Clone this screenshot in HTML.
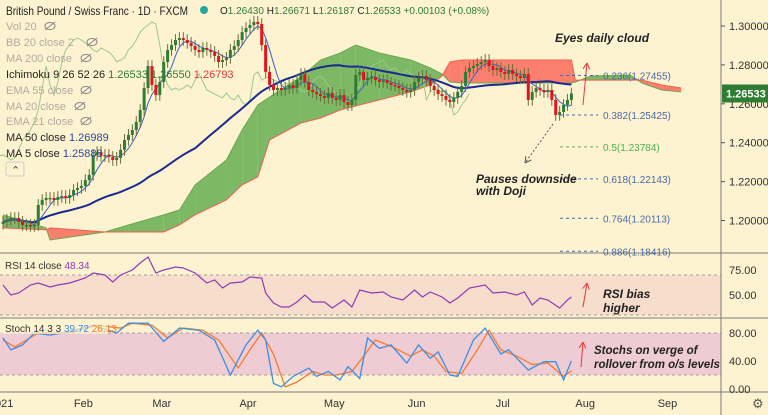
<!DOCTYPE html>
<html><head><meta charset="utf-8">
<style>
html,body{margin:0;padding:0;background:#fdf3d1;}
#wrap{position:relative;width:768px;height:415px;overflow:hidden;background:#fdf3d1;font-family:"Liberation Sans",sans-serif;}
svg{position:absolute;left:0;top:0;}
</style></head>
<body>
<div id="wrap">
<svg id="c" width="768" height="415"></svg>
</div>
<script>
// ---------- data ----------
const closes = [1.1993,1.2003,1.2013,1.2013,1.1993,1.1977,1.1977,1.1972,1.1977,1.2080,
1.2106,1.2116,1.2116,1.2106,1.2121,1.2126,1.2116,1.2131,1.2157,1.2167,
1.2178,1.2208,1.2234,1.2337,1.2352,1.2332,1.2337,1.2327,1.2311,1.2322,
1.2363,1.2414,1.2440,1.2465,1.2507,1.2568,1.2681,1.2794,1.2697,1.2645,
1.2712,1.2815,1.2877,1.2902,1.2928,1.2938,1.2928,1.2913,1.2897,1.2877,
1.2866,1.2887,1.2877,1.2866,1.2846,1.2815,1.2825,1.2836,1.2877,1.2897,
1.2928,1.2969,1.2990,1.3005,1.3021,1.3010,1.2902,1.2764,1.2697,1.2671,
1.2681,1.2671,1.2681,1.2697,1.2681,1.2722,1.2753,1.2712,1.2671,1.2661,
1.2650,1.2640,1.2630,1.2656,1.2630,1.2620,1.2645,1.2609,1.2594,1.2620,
1.2748,1.2764,1.2722,1.2733,1.2738,1.2722,1.2712,1.2722,1.2707,1.2697,
1.2692,1.2681,1.2671,1.2661,1.2671,1.2712,1.2733,1.2743,1.2722,1.2692,
1.2671,1.2650,1.2640,1.2620,1.2609,1.2630,1.2661,1.2692,1.2764,1.2784,
1.2794,1.2805,1.2815,1.2825,1.2794,1.2774,1.2784,1.2764,1.2753,1.2774,
1.2753,1.2743,1.2733,1.2753,1.2620,1.2661,1.2681,1.2671,1.2661,1.2671,
1.2620,1.2543,1.2558,1.2594,1.2620,1.2653];
const cloudIdx = [0,11,12,26,32,41,45,49,57,61,65,68,76,81,86,90,96,104,109,112,114,117,145,146,150,160,163,168,173];
const spanA = [1.2029,1.1962,1.1900,1.1941,1.1977,1.2029,1.2054,1.2183,1.2311,1.2465,1.2594,1.2635,1.2738,1.2825,1.2861,1.2902,1.2861,1.2825,1.2784,1.2753,1.2712,1.2707,1.2707,1.2712,1.2743,1.2748,1.2707,1.2671,1.2661];
const spanB = [1.1962,1.1952,1.1962,1.1941,1.1941,1.1941,1.1977,1.2029,1.2106,1.2183,1.2224,1.2414,1.2501,1.2527,1.2568,1.2589,1.2620,1.2661,1.2697,1.2743,1.2815,1.2825,1.2825,1.2722,1.2722,1.2722,1.2722,1.2697,1.2681];
const rsiIdx = [0,2,4,7,9,12,14,17,21,23,26,28,30,33,35,37,39,41,44,46,49,52,54,56,58,61,63,66,67,69,71,73,75,77,79,82,84,87,89,91,94,97,99,102,105,107,109,112,114,116,119,123,125,128,131,133,135,137,139,142,144,145];
const rsiVals = [60,50,52,60,62,58,60,62,67,72,70,63,70,75,82,88,72,75,78,77,72,62,65,57,62,63,68,67,52,42,38,38,43,50,43,43,37,45,38,55,52,53,48,45,55,48,53,48,42,47,57,60,52,53,50,53,40,47,45,37,45,48];
const kIdx = [0,2,5,8,12,17,23,29,32,37,41,45,50,54,58,62,65,67,69,71,74,78,80,83,86,88,91,93,96,99,103,106,109,111,114,116,120,123,127,129,134,138,141,143,145];
const kVals = [73,56,63,80,77,82,91,80,94,94,68,87,84,70,20,63,84,70,8,3,18,30,18,25,13,32,15,73,58,63,37,63,44,53,20,18,70,87,50,56,27,39,39,13,40];
const dIdx = [0,3,6,9,17,24,30,33,38,42,46,51,55,60,63,66,69,72,75,79,82,85,89,92,95,99,104,107,110,113,117,121,124,127,131,135,139,143,145];
const dVals = [70,60,70,80,80,91,87,94,91,73,87,84,70,30,56,80,50,3,10,25,20,20,25,47,70,61,47,56,47,25,22,56,84,56,47,35,37,18,26];
const priceTicks = [1.30,1.28,1.26,1.24,1.22,1.20];
const fibRatios = ["0.236","0.382","0.5","0.618","0.764","0.886"];
const fibPrices = [1.27455,1.25425,1.23784,1.22143,1.20113,1.18416];
const monthLabels = ["2021","Feb","Mar","Apr","May","Jun","Jul","Aug","Sep"];
const monthBars = [-1,20,40,62,84,105,127,148,169];
const rsiTicks = [75,50];
const stochTicks = [80,40,0];

// ---------- axes ----------
const X = i => 3 + 3.92*i;
const PY = p => 26 + (1.30 - p)*1945;
const RY = v => 295 - (v-50)*1.0;
const SY = v => 389 - v*0.7;
const NS='http://www.w3.org/2000/svg';
const svg=document.getElementById('c');
function el(tag,attrs,parent){const e=document.createElementNS(NS,tag);for(const k in attrs)e.setAttribute(k,attrs[k]);(parent||svg).appendChild(e);return e;}

// bands
let b=el('rect',{x:0,y:RY(70),width:721,height:RY(30)-RY(70),fill:'#f7ddcb'});


b=el('rect',{x:0,y:SY(80),width:721,height:SY(20)-SY(80),fill:'#efcbd3'});


[[RY(70)],[RY(30)],[SY(80)],[SY(20)]].forEach(v=>{let l=el('line',{x1:0,x2:721,y1:v[0],y2:v[0],stroke:'#a89a9a','stroke-dasharray':'3,3','stroke-width':1});});

// separators
[[253],[318],[392]].forEach(v=>{let l=el('line',{x1:0,x2:768,y1:v[0],y2:v[0],stroke:'#7a7a7a','stroke-width':1});});
let vl=el('line',{x1:721,x2:721,y1:0,y2:415,stroke:'#7a7a7a','stroke-width':1});



// cloud
for(let k=0;k<cloudIdx.length-1;k++){
  const x1=X(cloudIdx[k]),x2=X(cloudIdx[k+1]);
  const g=(spanA[k]+spanA[k+1])>=(spanB[k]+spanB[k+1]);
  const p=el('polygon',{points:`${x1},${PY(spanA[k])} ${x2},${PY(spanA[k+1])} ${x2},${PY(spanB[k+1])} ${x1},${PY(spanB[k])}`,fill:g?'#7db864':'#fc7e6d'});
  
  
}
let pa=el('polyline',{points:cloudIdx.map((c,k)=>X(c)+','+PY(spanA[k])).join(' '),fill:'none',stroke:'#6aa84f','stroke-width':1});


let pb=el('polyline',{points:cloudIdx.map((c,k)=>X(c)+','+PY(spanB[k])).join(' '),fill:'none',stroke:'#f06050','stroke-width':1});



// chikou
let ch=el('polyline',{points:closes.map((c,i)=>X(i-26)+','+PY(c)).join(' '),fill:'none',stroke:'#9cc98a','stroke-width':1});



// moving averages
function sma(n){return closes.map((c,i)=>{const s=closes.slice(Math.max(0,i-n+1),i+1);return s.reduce((a,b)=>a+b,0)/s.length;});}
const ma50=sma(50);
let m50=el('polyline',{points:ma50.map((v,i)=>X(i)+','+PY(v)).join(' '),fill:'none',stroke:'#1a2a8f','stroke-width':2});


let m5=el('polyline',{points:sma(5).map((v,i)=>X(i)+','+PY(v)).join(' '),fill:'none',stroke:'#3b62c8','stroke-width':1});



// candles
closes.forEach((c,i)=>{
  const o=i?closes[i-1]:c-0.001;
  const hi=Math.max(o,c)+0.003,lo=Math.min(o,c)-0.003;
  const col=c>=o?'#2e7d32':'#e2141c';
  const g=el('g',{});
  
  
  el('line',{x1:X(i),x2:X(i),y1:PY(hi),y2:PY(lo),stroke:'#6b6b3a','stroke-width':1},g);
  const t=PY(Math.max(o,c)),h=Math.max(1.5,PY(Math.min(o,c))-t);
  el('rect',{x:X(i)-1.5,y:t,width:3,height:h,fill:col},g);
});

// fib levels
fibPrices.forEach((p,k)=>{
  const y=PY(p);
  const l=el('line',{x1:560,x2:598,y1:y,y2:y,stroke:k==2?'#6aa84f':'#4a6aa8','stroke-dasharray':'3,3','stroke-width':1});
  
  
  const t=el('text',{x:603,y:y+4,'font-size':10,fill:k==2?'#4caf50':'#4a6aa8'});
  t.textContent=fibRatios[k]+'('+p.toFixed(5)+')';
  
  
});

// RSI
let rl=el('polyline',{points:rsiIdx.map((c,k)=>X(c)+','+RY(rsiVals[k])).join(' '),fill:'none',stroke:'#8e3bb5','stroke-width':1.2});



// Stoch
let dl=el('polyline',{points:dIdx.map((c,k)=>X(c)+','+SY(dVals[k])).join(' '),fill:'none',stroke:'#f57c2c','stroke-width':1.3});


let kl=el('polyline',{points:kIdx.map((c,k)=>X(c)+','+SY(kVals[k])).join(' '),fill:'none',stroke:'#3d8fe0','stroke-width':1.3});



// axes labels
priceTicks.forEach(p=>{const t=el('text',{x:729,y:PY(p)+4,'font-size':11,fill:'#333'});t.textContent=p.toFixed(5);el('line',{x1:721,x2:725,y1:PY(p),y2:PY(p),stroke:'#555'});});
rsiTicks.forEach(v=>{const t=el('text',{x:729,y:RY(v)+4,'font-size':11,fill:'#333'});t.textContent=v.toFixed(2);});
stochTicks.forEach(v=>{const t=el('text',{x:729,y:SY(v)+4,'font-size':11,fill:'#333'});t.textContent=v.toFixed(2);});
monthLabels.forEach((m,k)=>{const t=el('text',{x:X(monthBars[k])+2,y:407,'font-size':11,fill:'#333','text-anchor':'middle'});t.textContent=m;});

// last price badge
const lp=closes[closes.length-1];
let bg=el('rect',{x:722,y:PY(lp)-9,width:46,height:18,fill:'#2e7d32'});


let bt=el('text',{x:726,y:PY(lp)+4,'font-size':11,'font-weight':'bold',fill:'#fff'});
bt.textContent='1.26533';



// annotations
function arrow(x1,y1,x2,y2,name,dash){const g=el('g',{});
  const c=dash?'#555':'#e53935';el('line',{x1,y1,x2,y2,stroke:c,'stroke-width':1,'stroke-dasharray':dash?'2,2':'none'},g);
  const a=Math.atan2(y2-y1,x2-x1),L=7;[0.5,-0.5].forEach(d=>el('line',{x1:x2,y1:y2,x2:x2-L*Math.cos(a+d),y2:y2-L*Math.sin(a+d),stroke:c,'stroke-width':1},g));}
arrow(583,105,587,63,'cloud-arrow',false);
arrow(553,124,525,163,'doji-arrow',true);
arrow(583,307,587,283,'rsi-arrow',false);
arrow(581,367,583,342,'stoch-arrow',false);
function txt(x,y,s,name,size){const t=el('text',{x,y,'font-size':size||12,'font-style':'italic','font-weight':'bold',fill:'#222'});t.textContent=s;}
txt(555,42,'Eyes daily cloud','note-eyes-cloud');
txt(476,183,'Pauses downside','note-pauses');
txt(476,195,'with Doji','note-doji');
txt(603,298,'RSI bias','note-rsi');
txt(603,312,'higher','note-rsi-2');
txt(594,354,'Stochs on verge of','note-stoch',11.5);
txt(594,368,'rollover from o/s levels','note-stoch-2',11.5);

// legends
function lg(x,y,parts,name,size){const t=el('text',{x,y,'font-size':size||11});parts.forEach(p=>{const s=el('tspan',{fill:p[1]},t);s.textContent=p[0];});return t;}
const tt=lg(6,15,[['British Pound / Swiss Franc · 1D · FXCM','#222']],'chart-title',12);
tt.setAttribute('textLength','182');
tt.setAttribute('lengthAdjust','spacingAndGlyphs');
let dot=el('circle',{cx:204,cy:10,r:4,fill:'#26a69a'});


const oh=lg(220,14,[['O','#222'],['1.26430 ','#2e7d32'],['H','#222'],['1.26671 ','#2e7d32'],['L','#222'],['1.26187 ','#2e7d32'],['C','#222'],['1.26533 +0.00103 (+0.08%)','#2e7d32']],'ohlc-values',10);
const rows=[['Vol 20',null,26],['BB 20 close 2',null,42],['MA 200 close',null,58],['Ichimoku 9 26 52 26',[['1.26533','#2e7d32'],['1.26550','#2e7d32'],['1.26793','#e53935']],74],['EMA 55 close',null,90],['MA 20 close',null,106],['EMA 21 close',null,121],['MA 50 close',[['1.26989','#2a4aa8']],137],['MA 5 close',[['1.25888','#2a4aa8']],153]];
rows.forEach(r=>{
  if(r[1]){const p=[[r[0],'#222']];r[1].forEach(v=>p.push(['  '+v[0],v[1]]));lg(6,r[2]+4,p,'legend-'+r[0].toLowerCase().replace(/[^a-z0-9]+/g,'-'));}
  else{const t=lg(6,r[2]+4,[[r[0],'#b3aba0']],'legend-'+r[0].toLowerCase().replace(/[^a-z0-9]+/g,'-'));
    const w=r[0].length*6+14;const g=el('g',{});
    el('ellipse',{cx:w,cy:r[2],rx:5,ry:3.5,fill:'none',stroke:'#888'},g);el('line',{x1:w-5,y1:r[2]+4,x2:w+5,y2:r[2]-4,stroke:'#888'},g);}
});
let cb=el('rect',{x:6,y:162,width:18,height:14,rx:2,fill:'#fdf3d1',stroke:'#ccc'});


lg(11,174,[['⌃','#444']],'collapse-icon',11);
lg(5,269,[['RSI 14 close  ','#333'],['48.34','#8e3bb5']],'rsi-legend',10);
let sbg=el('rect',{x:0,y:322,width:108,height:12,fill:'#fdf3d1','fill-opacity':0.7});


lg(5,332,[['Stoch 14 3 3  ','#333'],['39.72  ','#3d8fe0'],['26.13','#f57c2c']],'stoch-legend',10);
lg(752,408,[['⚙','#555']],'settings-gear',13);
</script>
</body></html>
